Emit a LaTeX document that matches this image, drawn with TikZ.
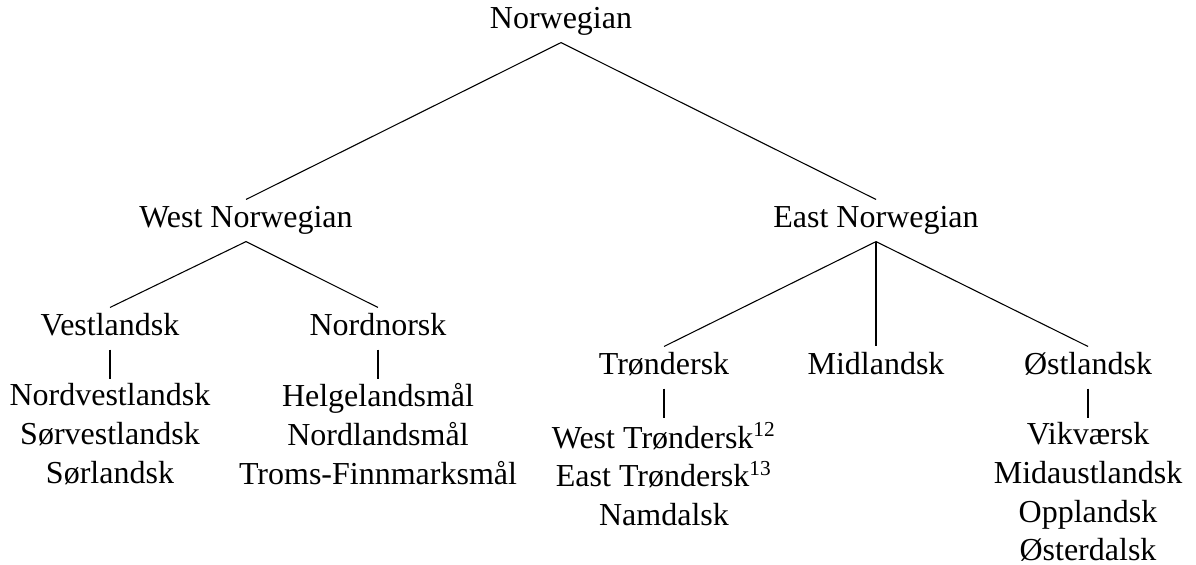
\documentclass[tikz,border=0pt]{standalone}
\usepackage{fontspec}
\setmainfont{Liberation Serif}
\begin{document}
\begin{tikzpicture}[x=0.375pt, y=-0.375pt]
        \tikzstyle{every node}=[font=\fontsize{12}{14.5}\selectfont, inner sep=1.5pt, text height=9pt, text depth=3.4pt, align=center];
        \tikzstyle{group}=[anchor=north, text height=, text depth=];
        \useasboundingbox (0,0) rectangle (1196,565);

        \node (root) [anchor=base] at (561,29) {Norwegian};
        \node (west) [anchor=base] at (246,228) {West Norwegian};
        \node (east) [anchor=base] at (876,228) {East Norwegian};

        \node (vest) [anchor=base] at (110,336) {Vestlandsk};
        \node (nord) [anchor=base] at (378,336) {Nordnorsk};
        \node (trond) [anchor=base] at (664,375) {Trøndersk};
        \node (midl) [anchor=base] at (876,375) {Midlandsk};
        \node (ost) [anchor=base] at (1088,375) {Østlandsk};

        \node (vestsub) [group] at (110,379) {Nordvestlandsk\\Sørvestlandsk\\Sørlandsk};
        \node (nordsub) [group] at (378,379) {Helgelandsmål\\Nordlandsmål\\Troms-Finnmarksmål};
        \node (trondsub) [group] at (664,418) {West Trøndersk\textsuperscript{12}\\East Trøndersk\textsuperscript{13}\\Namdalsk};
        \node (ostsub) [group] at (1088,418) {Vikværsk\\Midaustlandsk\\Opplandsk\\Østerdalsk};

        \draw (root.south) -- (west.north);
        \draw (root.south) -- (east.north);
        \draw (west.south) -- (vest.north);
        \draw (west.south) -- (nord.north);
        \draw (east.south) -- (trond.north);
        \draw (east.south) -- (midl.north);
        \draw (east.south) -- (ost.north);
        \draw (vest.south) -- (vestsub.north);
        \draw (nord.south) -- (nordsub.north);
        \draw (trond.south) -- (trondsub.north);
        \draw (ost.south) -- (ostsub.north);
\end{tikzpicture}
\end{document}
